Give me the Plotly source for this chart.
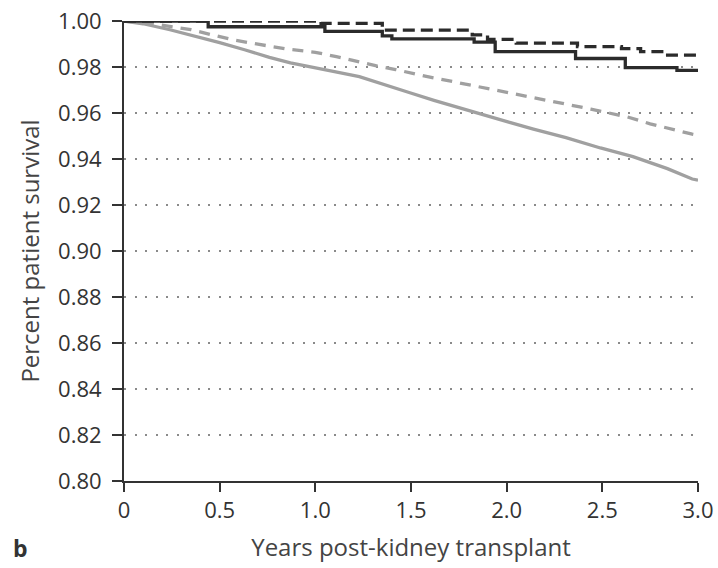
import plotly.graph_objects as go

# Kaplan-Meier patient survival after kidney transplant (panel b)
years_dark_solid = [0, 0.44, 1.05, 1.35, 1.40, 1.83, 1.94, 2.36, 2.62, 2.89, 3.0]
surv_dark_solid = [1.000, 0.9975, 0.9955, 0.9935, 0.9922, 0.9908, 0.9867, 0.9837, 0.9797, 0.9785, 0.9785]

years_dark_dash = [0, 1.03, 1.35, 1.82, 1.90, 2.05, 2.37, 2.60, 2.70, 2.82, 3.0]
surv_dark_dash = [1.000, 0.9990, 0.9960, 0.9940, 0.9920, 0.9904, 0.9889, 0.9880, 0.9867, 0.9852, 0.9852]

years_light_solid = [0, 0.1, 0.24, 0.37, 0.5, 0.63, 0.76, 0.87, 0.97, 1.1, 1.23, 1.36,
                     1.49, 1.62, 1.76, 1.89, 2.02, 2.14, 2.31, 2.49, 2.66, 2.84, 2.97, 3.0]
surv_light_solid = [1.0, 0.9988, 0.9962, 0.9935, 0.9906, 0.9875, 0.9842, 0.9818, 0.9800,
                    0.9780, 0.9758, 0.9725, 0.9689, 0.9655, 0.9620, 0.9590, 0.9558, 0.9530,
                    0.9493, 0.9448, 0.9410, 0.9358, 0.9313, 0.9308]

years_light_dash = [0, 0.15, 0.35, 0.56, 0.7, 0.87, 1.0, 1.11, 1.32, 1.42, 1.54, 1.77,
                    1.97, 2.23, 2.44, 2.63, 2.75, 2.97, 3.0]
surv_light_dash = [1.0, 0.9988, 0.9962, 0.9920, 0.9899, 0.9876, 0.9864, 0.9845, 0.9805,
                   0.9789, 0.9766, 0.9728, 0.9696, 0.9650, 0.9617, 0.9583, 0.9553, 0.9508, 0.9503]

x_ticks = [0, 0.5, 1.0, 1.5, 2.0, 2.5, 3.0]
x_tick_text = ["0", "0.5", "1.0", "1.5", "2.0", "2.5", "3.0"]
y_ticks = [0.80, 0.82, 0.84, 0.86, 0.88, 0.90, 0.92, 0.94, 0.96, 0.98, 1.00]

DARK = "#2b2b2b"
LIGHT = "#a0a0a0"
AXIS = "#333333"
FONT = "Open Sans"
TICK_SIZE = 22
TITLE_SIZE = 24

fig = go.Figure()
fig.add_trace(go.Scatter(x=years_light_solid, y=surv_light_solid, mode="lines",
                         line=dict(color=LIGHT, width=3.3)))
fig.add_trace(go.Scatter(x=years_light_dash, y=surv_light_dash, mode="lines",
                         line=dict(color=LIGHT, width=3.3, dash="11px,8px")))
fig.add_trace(go.Scatter(x=years_dark_solid, y=surv_dark_solid, mode="lines",
                         line=dict(color=DARK, width=3.3, shape="hv")))
fig.add_trace(go.Scatter(x=years_dark_dash, y=surv_dark_dash, mode="lines",
                         line=dict(color=DARK, width=3.3, shape="hv", dash="12px,6px")))

fig.update_layout(
    width=718, height=568,
    margin=dict(l=124, r=20, t=21, b=87),
    paper_bgcolor="white", plot_bgcolor="white",
    showlegend=False,
    font=dict(family=FONT, size=TICK_SIZE, color=AXIS),
    xaxis=dict(
        range=[0, 3.0], tickvals=x_ticks, ticktext=x_tick_text,
        automargin=False,
        showgrid=False, zeroline=False,
        showline=True, linecolor=AXIS, linewidth=2,
        ticks="outside", ticklen=9, tickwidth=2, tickcolor=AXIS,
        tickfont=dict(size=TICK_SIZE, color=AXIS),
        title=dict(text="Years post-kidney transplant",
                   font=dict(size=TITLE_SIZE, color="#444444"), standoff=16),
    ),
    yaxis=dict(
        range=[0.80, 1.00], tickvals=y_ticks, tickformat=".2f",
        automargin=False,
        showgrid=True, gridcolor="#8a8a8a", gridwidth=1.5, griddash="2px,8.5px",
        zeroline=False,
        showline=True, linecolor=AXIS, linewidth=2,
        ticks="outside", ticklen=10, tickwidth=2, tickcolor=AXIS,
        ticklabelstandoff=6,
        tickfont=dict(size=TICK_SIZE, color=AXIS),
        title=dict(text="Percent patient survival",
                   font=dict(size=TITLE_SIZE, color="#444444"), standoff=12),
    ),
)

fig.add_annotation(text="<b>b</b>", xref="paper", yref="paper", x=-0.197, y=-0.146,
                   xanchor="left", yanchor="middle", showarrow=False,
                   font=dict(family=FONT, size=23, color=AXIS))

fig.write_html("out.html")
